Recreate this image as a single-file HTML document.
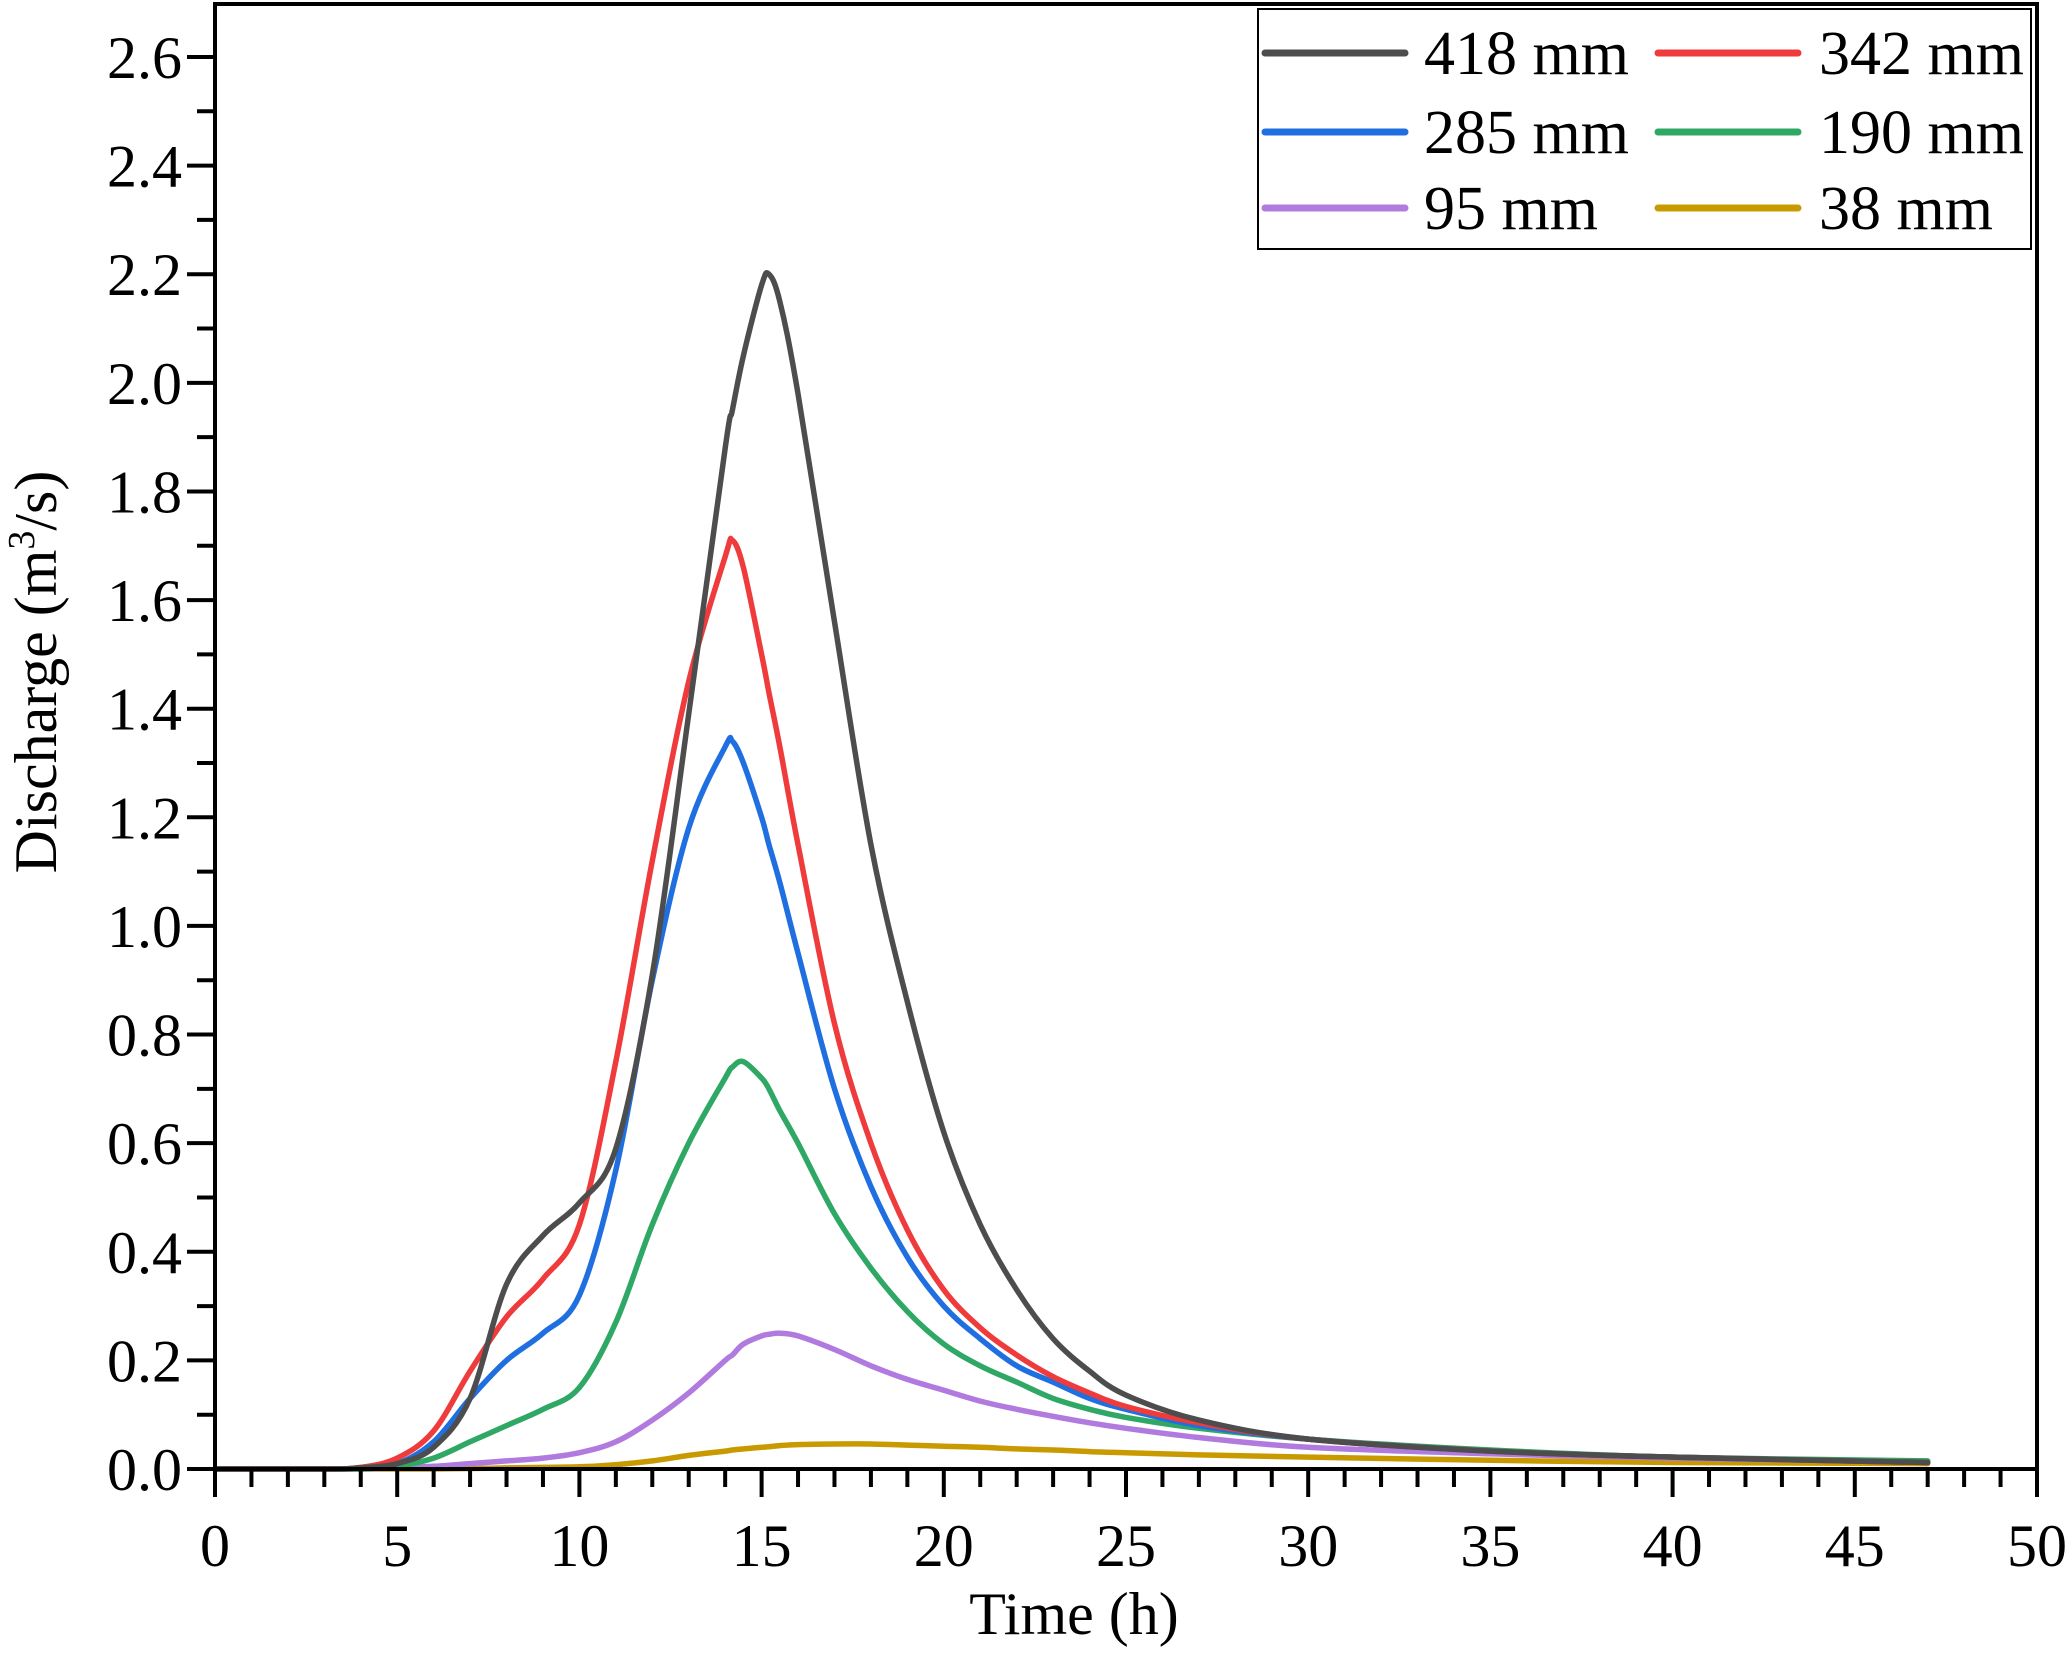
<!DOCTYPE html>
<html><head><meta charset="utf-8"><style>
html,body{margin:0;padding:0;background:#fff}
svg text{font-family:"Liberation Serif",serif;fill:#000}
</style></head><body>
<svg id="chart" width="2067" height="1651" viewBox="0 0 2067 1651" xmlns="http://www.w3.org/2000/svg">
<g id="plot"></g>
<g id="axes"></g>
<g id="legend"></g>
</svg>
<script>
const times = [0,3,4,5,6,7,8,9,10,11,12,13,14,14.2,14.5,15,15.2,15.5,16,17,18,19,20,21,22,23,24,25,27,30,35,40,47];
const s418 = [0,0,0.002,0.01,0.04,0.13,0.34,0.43,0.49,0.59,0.91,1.39,1.88,1.95,2.05,2.18,2.2,2.15,1.98,1.56,1.15,0.86,0.62,0.45,0.33,0.24,0.18,0.136,0.09,0.055,0.033,0.022,0.012];
const s342 = [0,0,0.003,0.02,0.07,0.18,0.28,0.35,0.45,0.75,1.12,1.45,1.68,1.71,1.66,1.5,1.43,1.33,1.15,0.82,0.6,0.44,0.33,0.26,0.21,0.17,0.14,0.115,0.085,0.055,0.033,0.022,0.012];
const s285 = [0,0,0.002,0.01,0.05,0.13,0.2,0.25,0.32,0.55,0.9,1.18,1.33,1.34,1.3,1.2,1.15,1.08,0.95,0.7,0.52,0.39,0.3,0.24,0.19,0.16,0.13,0.11,0.08,0.055,0.033,0.022,0.012];
const s190 = [0,0,0,0.005,0.02,0.05,0.08,0.11,0.15,0.27,0.45,0.6,0.72,0.74,0.75,0.72,0.7,0.66,0.6,0.47,0.37,0.29,0.23,0.19,0.16,0.13,0.11,0.095,0.075,0.055,0.035,0.022,0.015];
const s95 = [0,0,0,0.002,0.005,0.01,0.015,0.02,0.03,0.05,0.09,0.14,0.2,0.21,0.23,0.245,0.248,0.25,0.245,0.22,0.19,0.165,0.145,0.125,0.11,0.097,0.085,0.075,0.058,0.04,0.028,0.02,0.013];
const s38 = [0,0,0,0,0,0.001,0.002,0.003,0.004,0.008,0.015,0.025,0.033,0.035,0.037,0.04,0.041,0.043,0.045,0.046,0.046,0.044,0.042,0.04,0.037,0.035,0.032,0.03,0.026,0.022,0.016,0.012,0.01];
const seriesNames = ["418 mm","342 mm","285 mm","190 mm","95 mm","38 mm"];
const xTicks = [0,5,10,15,20,25,30,35,40,45,50];
const yTicks = ["0.0","0.2","0.4","0.6","0.8","1.0","1.2","1.4","1.6","1.8","2.0","2.2","2.4","2.6"];

const NS="http://www.w3.org/2000/svg";
const L=215,R=2037,B=1469,T=4;
const X=t=>L+(t-0)/(50-0)*(R-L);
const Y=v=>B-v/2.6*(B-57);
function mk(tag,attrs,parent){const e=document.createElementNS(NS,tag);for(const k in attrs)e.setAttribute(k,attrs[k]);parent.appendChild(e);return e;}
function smooth(pts){
  let d='M'+pts[0][0].toFixed(1)+','+pts[0][1].toFixed(1);
  for(let i=0;i<pts.length-1;i++){
    const p0=pts[Math.max(0,i-1)],p1=pts[i],p2=pts[i+1],p3=pts[Math.min(pts.length-1,i+2)];
    const c1=[p1[0]+(p2[0]-p0[0])/6,p1[1]+(p2[1]-p0[1])/6];
    const c2=[p2[0]-(p3[0]-p1[0])/6,p2[1]-(p3[1]-p1[1])/6];
    d+=' C'+c1[0].toFixed(1)+','+Math.min(B,c1[1]).toFixed(1)+' '+c2[0].toFixed(1)+','+Math.min(B,c2[1]).toFixed(1)+' '+p2[0].toFixed(1)+','+p2[1].toFixed(1);
  }
  return d;
}
const plot=document.getElementById('plot'),axes=document.getElementById('axes'),legend=document.getElementById('legend');
const all=[s418,s342,s285,s190,s95,s38];
const colors=["#4d4d4d","#ef3b3b","#1f6fe0","#2fa866","#b07ade","#c99a00"];
[5,4,3,2,1,0].forEach(i=>{
  const pts=all[i].map((v,j)=>[X(times[j]),Y(v)]);
  const p=mk('path',{d:smooth(pts),fill:'none',stroke:colors[i],'stroke-width':5.5,'stroke-linejoin':'round','stroke-linecap':'round'},plot);
  
  
});
const fr=mk('rect',{x:L,y:T,width:R-L,height:B-T,fill:'none',stroke:'#000','stroke-width':4},axes);


for(let t=0;t<=50;t++){
  const major=t%5===0;
  const ln=mk('line',{x1:X(t),x2:X(t),y1:B,y2:B+(major?28:18),stroke:'#000','stroke-width':4},axes);
  
  
}
xTicks.forEach(t=>{
  const tx=mk('text',{x:X(t),y:1566,'font-size':60,'text-anchor':'middle'},axes);
  tx.textContent=t;
  
  
});
for(let k=0;k<=26;k++){
  const major=k%2===0;
  const ln=mk('line',{x1:L-(major?28:18),x2:L,y1:Y(k/10),y2:Y(k/10),stroke:'#000','stroke-width':4},axes);
  
  
}
yTicks.forEach(s=>{
  const tx=mk('text',{x:182,y:Y(parseFloat(s))+21,'font-size':60,'text-anchor':'end'},axes);
  tx.textContent=s;
  
  
});
const xt=mk('text',{x:1074,y:1634,'font-size':60,'text-anchor':'middle'},axes);
xt.textContent='Time (h)';


const yt=mk('text',{x:0,y:0,'font-size':60,'text-anchor':'middle',transform:'translate(56,672) rotate(-90)'},axes);
yt.innerHTML='Discharge (m<tspan font-size="38" dy="-22">3</tspan><tspan dy="22">/s)</tspan>';


const lb=mk('rect',{x:1258,y:9,width:773,height:240,fill:'#fff',stroke:'#000','stroke-width':2},legend);


const rowsY=[53,132,208];
seriesNames.forEach((n,i)=>{
  const col=i%2,row=Math.floor(i/2);
  const x0=col?1658:1265,tx0=col?1819:1424;
  const g=mk('g',{},legend);
  
  
  mk('line',{x1:x0,x2:x0+140,y1:rowsY[row],y2:rowsY[row],stroke:colors[i],'stroke-width':7,'stroke-linecap':'round'},g);
  const t=mk('text',{x:tx0,y:rowsY[row]+21,'font-size':62},g);
  t.textContent=n;
});
</script>
</body></html>
